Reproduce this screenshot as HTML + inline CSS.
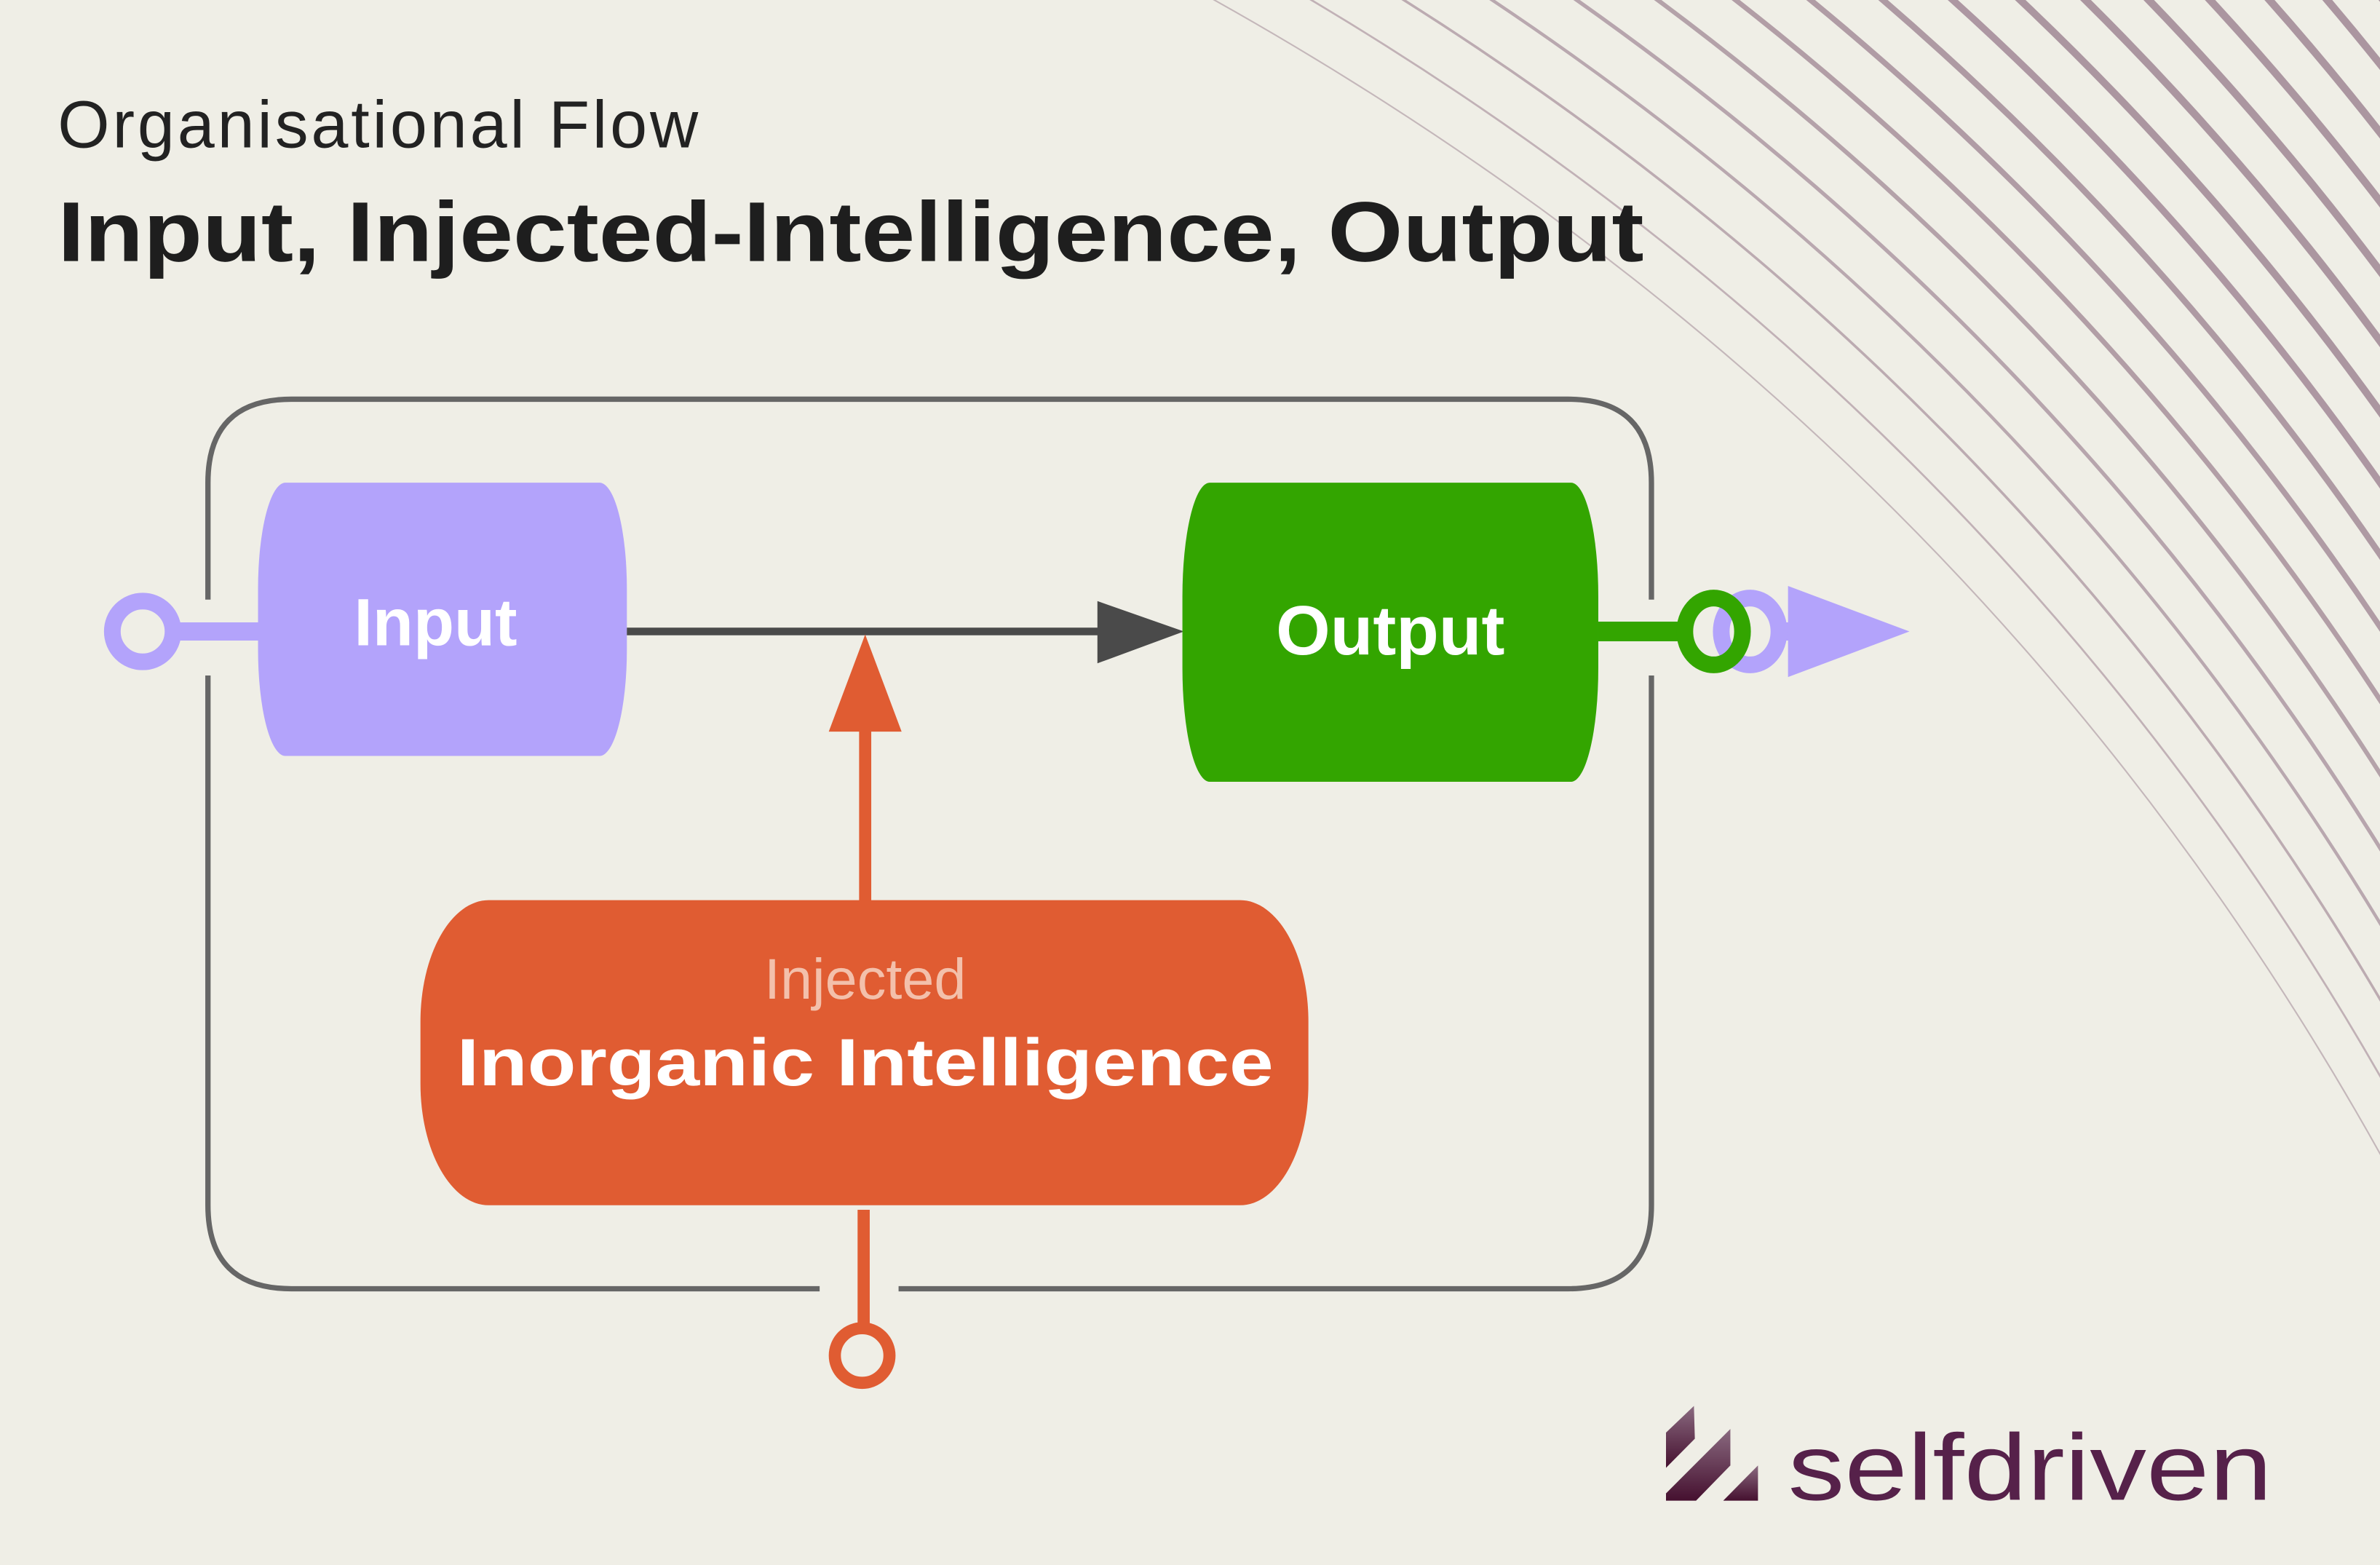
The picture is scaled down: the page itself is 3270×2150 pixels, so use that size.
<!DOCTYPE html>
<html><head><meta charset="utf-8"><style>
html,body{margin:0;padding:0;background:#efeee6;}
svg{display:block;}
text{font-family:"Liberation Sans",sans-serif;}
</style></head><body>
<svg width="3270" height="2150" viewBox="0 0 1568 1031" preserveAspectRatio="none" xmlns="http://www.w3.org/2000/svg">
<defs>
<linearGradient id="lg" x1="0" y1="0" x2="0" y2="1"><stop offset="0" stop-color="#8a6a80"/><stop offset="1" stop-color="#45102f"/></linearGradient>
<path id="arc" d="M700,-60 L800,0 Q1300,280 1568,760 L1700,1000" fill="none"/>
</defs>
<rect width="1568" height="1031" fill="#efeee6"/>
<g stroke="#9a7f8e" fill="none">
<use href="#arc" stroke-width="1" opacity="0.5"/>
<use href="#arc" transform="translate(12,-30)" stroke-width="1.3" opacity="0.55"/>
<use href="#arc" transform="translate(24,-60)" stroke-width="1.7" opacity="0.6"/>
<use href="#arc" transform="translate(36,-90)" stroke-width="2.1" opacity="0.63"/>
<use href="#arc" transform="translate(48,-120)" stroke-width="2.5" opacity="0.66"/>
<use href="#arc" transform="translate(60,-150)" stroke-width="2.9" opacity="0.69"/>
<use href="#arc" transform="translate(72,-180)" stroke-width="3.3" opacity="0.72"/>
<use href="#arc" transform="translate(84,-210)" stroke-width="3.7" opacity="0.74"/>
<use href="#arc" transform="translate(96,-240)" stroke-width="4.1" opacity="0.76"/>
<use href="#arc" transform="translate(108,-270)" stroke-width="4.5" opacity="0.78"/>
<use href="#arc" transform="translate(120,-300)" stroke-width="4.8" opacity="0.8"/>
<use href="#arc" transform="translate(132,-330)" stroke-width="5" opacity="0.8"/>
<use href="#arc" transform="translate(144,-360)" stroke-width="5" opacity="0.8"/>
<use href="#arc" transform="translate(156,-390)" stroke-width="5" opacity="0.8"/>
<use href="#arc" transform="translate(168,-420)" stroke-width="5" opacity="0.8"/>
<use href="#arc" transform="translate(180,-450)" stroke-width="5" opacity="0.8"/>
<use href="#arc" transform="translate(192,-480)" stroke-width="5" opacity="0.8"/>
<use href="#arc" transform="translate(204,-510)" stroke-width="5" opacity="0.8"/>
</g>
<text x="38" y="97" font-size="44" fill="#222" font-weight="300" textLength="422">Organisational Flow</text>
<text x="38" y="172" font-size="56" fill="#1e1e1e" font-weight="bold" textLength="1045" lengthAdjust="spacingAndGlyphs">Input, Injected-Intelligence, Output</text>
<g fill="none" stroke="#666" stroke-width="3.5">
<path d="M137,395 L137,318 Q137,263 192,263 L1033,263 Q1088,263 1088,318 L1088,395"/>
<path d="M1088,445 L1088,794 Q1088,849 1033,849 L592,849"/>
<path d="M540,849 L192,849 Q137,849 137,794 L137,445"/>
</g>
<line x1="114" y1="416" x2="172" y2="416" stroke="#b3a3fb" stroke-width="12"/>
<circle cx="94" cy="416" r="20" fill="#efeee6" stroke="#b3a3fb" stroke-width="11"/>
<rect x="170" y="318" width="243" height="180" rx="18" ry="70" fill="#b3a3fb"/>
<text x="287" y="425" font-size="44" fill="#fff" font-weight="bold" text-anchor="middle">Input</text>
<line x1="413" y1="416" x2="730" y2="416" stroke="#4a4a4a" stroke-width="5"/>
<polygon points="723,396 780,416 723,437" fill="#4a4a4a"/>
<rect x="779" y="318" width="274" height="197" rx="18" ry="75" fill="#33a500"/>
<text x="916" y="431" font-size="46" fill="#fff" font-weight="bold" text-anchor="middle">Output</text>
<line x1="1160" y1="416" x2="1185" y2="416" stroke="#b3a3fb" stroke-width="12"/>
<ellipse cx="1153" cy="416" rx="19" ry="22" fill="#efeee6" stroke="#b3a3fb" stroke-width="11"/>
<polygon points="1178,386 1258,416 1178,446" fill="#b3a3fb"/>
<line x1="1053" y1="416" x2="1110" y2="416" stroke="#33a500" stroke-width="13"/>
<ellipse cx="1129" cy="416" rx="19" ry="22" fill="none" stroke="#33a500" stroke-width="11"/>
<line x1="570" y1="595" x2="570" y2="478" stroke="#e05c32" stroke-width="8"/>
<polygon points="546,482 570,418 594,482" fill="#e05c32"/>
<rect x="277" y="593" width="585" height="201" rx="45" ry="80" fill="#e05c32"/>
<text x="570" y="658" font-size="38" fill="#f3c0ab" font-weight="300" text-anchor="middle">Injected</text>
<text x="570" y="715" font-size="44" fill="#fff" font-weight="bold" text-anchor="middle" textLength="538" lengthAdjust="spacingAndGlyphs">Inorganic Intelligence</text>
<line x1="569" y1="797" x2="569" y2="874" stroke="#e05c32" stroke-width="8"/>
<circle cx="568" cy="893" r="18" fill="#efeee6" stroke="#e05c32" stroke-width="8"/>
<g fill="url(#lg)">
<polygon points="1097.6,943.8 1116,926.2 1116.6,947.8 1097.6,967"/>
<polygon points="1140,941.4 1140,965.4 1117.4,988.6 1097.6,988.6 1097.6,983.8"/>
<polygon points="1158.2,965.4 1158.2,988.6 1135.3,988.6"/>
</g>
<text x="1178" y="988" font-size="62" fill="#56214a" textLength="319" lengthAdjust="spacingAndGlyphs">selfdriven</text>
</svg>
</body></html>
